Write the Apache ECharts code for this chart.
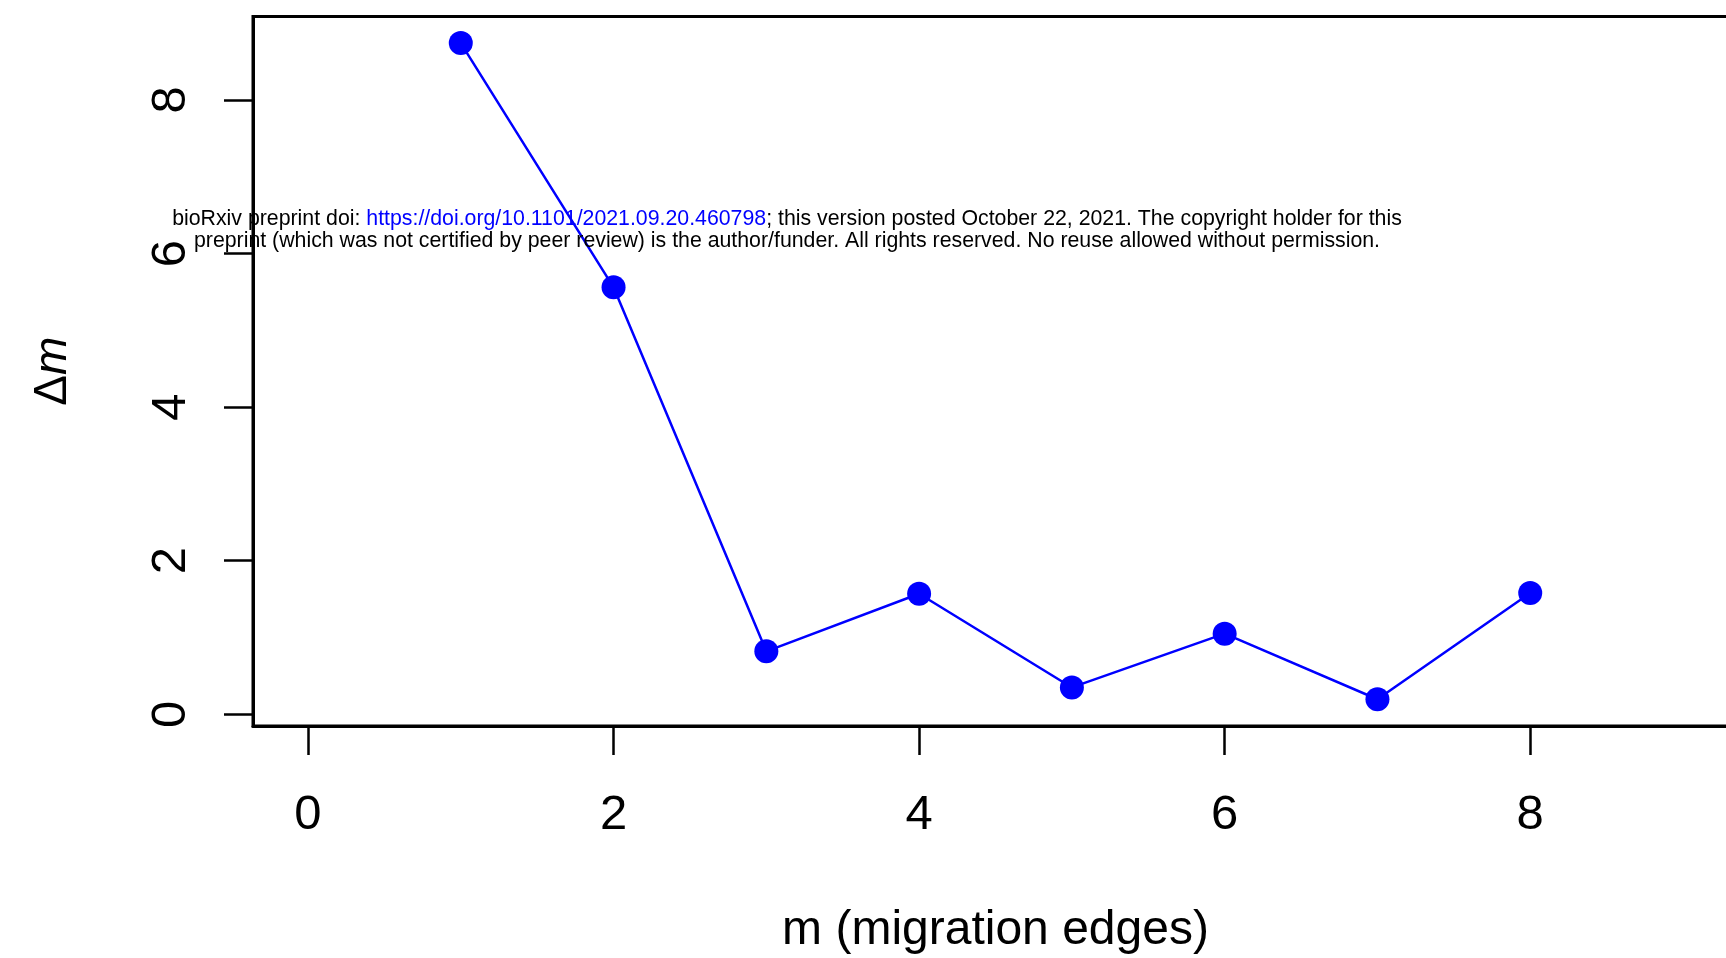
<!DOCTYPE html>
<html>
<head>
<meta charset="utf-8">
<script src="https://cdn.jsdelivr.net/npm/echarts@6/dist/echarts.min.js"></script>
<style>
  html, body { margin: 0; padding: 0; background: #ffffff; }
  #chart { width: 1726px; height: 958px; }
</style>
</head>
<body>
<div id="chart"></div>
<script>
// Number of migration edges and the change statistic at each step
var migrationEdges = [1, 2, 3, 4, 5, 6, 7, 8];
var deltaM = [8.74, 5.56, 0.82, 1.57, 0.35, 1.05, 0.196, 1.58];

// Tick positions on each axis
var xTicks = [0, 2, 4, 6, 8];
var yTicks = [0, 2, 4, 6, 8];

// Preprint notice printed across the figure
var noticeLine1Start = 'bioRxiv preprint doi: ';
var noticeLink = 'https://doi.org/10.1101/2021.09.20.460798';
var noticeLine1End = '; this version posted October 22, 2021. The copyright holder for this';
var noticeLine2 = 'preprint (which was not certified by peer review) is the author/funder. All rights reserved. No reuse allowed without permission.';

var FONT = '"Liberation Sans", Arial, Helvetica, sans-serif';

var points = migrationEdges.map(function (m, i) { return [m, deltaM[i]]; });

var chart = echarts.init(document.getElementById('chart'), null, { renderer: 'canvas' });

chart.setOption({
  animation: false,
  backgroundColor: '#ffffff',
  grid: {
    left: 253,
    top: 16.5,
    width: 1485,
    height: 709.5,
    containLabel: false,
    outerBoundsMode: 'none',
    show: true,
    borderColor: '#000000',
    borderWidth: 3,
    backgroundColor: 'transparent'
  },
  xAxis: {
    type: 'value',
    min: -0.36,
    max: 9.36,
    name: 'm (migration edges)',
    nameLocation: 'middle',
    nameGap: 205,
    nameTextStyle: { fontFamily: FONT, fontSize: 48, color: '#000000', verticalAlign: 'middle' },
    axisLine: { show: true, onZero: false, lineStyle: { color: '#000000', width: 3 } },
    axisTick: { show: true, customValues: xTicks, length: 29, lineStyle: { color: '#000000', width: 2.5 } },
    axisLabel: {
      customValues: xTicks,
      margin: 89,
      verticalAlign: 'middle',
      fontFamily: FONT,
      fontSize: 49,
      color: '#000000'
    },
    splitLine: { show: false }
  },
  yAxis: {
    type: 'value',
    min: -0.152,
    max: 9.086,
    name: '{n|Δ}{i|m}',
    nameLocation: 'middle',
    nameGap: 200,
    nameRotate: 90,
    nameTextStyle: {
      verticalAlign: 'middle',
      rich: {
        n: { fontFamily: FONT, fontSize: 46, color: '#000000' },
        i: { fontFamily: FONT, fontSize: 46, fontStyle: 'italic', color: '#000000' }
      }
    },
    axisLine: { show: true, onZero: false, lineStyle: { color: '#000000', width: 3 } },
    axisTick: { show: true, customValues: yTicks, length: 29, lineStyle: { color: '#000000', width: 2.5 } },
    axisLabel: {
      customValues: yTicks,
      rotate: 90,
      margin: 82,
      align: 'center',
      verticalAlign: 'middle',
      fontFamily: FONT,
      fontSize: 49,
      color: '#000000'
    },
    splitLine: { show: false }
  },
  series: [{
    type: 'line',
    data: points,
    symbol: 'circle',
    symbolSize: 24,
    showSymbol: true,
    itemStyle: { color: '#0000ff' },
    lineStyle: { color: '#0000ff', width: 2.5 },
    z: 3
  }],
  graphic: [
    {
      type: 'text',
      x: 787,
      y: 219,
      z: 10,
      style: {
        text: '{t|' + noticeLine1Start + '}{u|' + noticeLink + '}{t|' + noticeLine1End + '}',
        align: 'center',
        verticalAlign: 'middle',
        rich: {
          t: { fontFamily: FONT, fontSize: 21.3, fill: '#000000' },
          u: { fontFamily: FONT, fontSize: 21.3, fill: '#0000ff' }
        }
      }
    },
    {
      type: 'text',
      x: 787,
      y: 241,
      z: 10,
      style: {
        text: noticeLine2,
        align: 'center',
        verticalAlign: 'middle',
        fontFamily: FONT,
        fontSize: 21.3,
        fill: '#000000'
      }
    }
  ]
});
</script>
</body>
</html>
